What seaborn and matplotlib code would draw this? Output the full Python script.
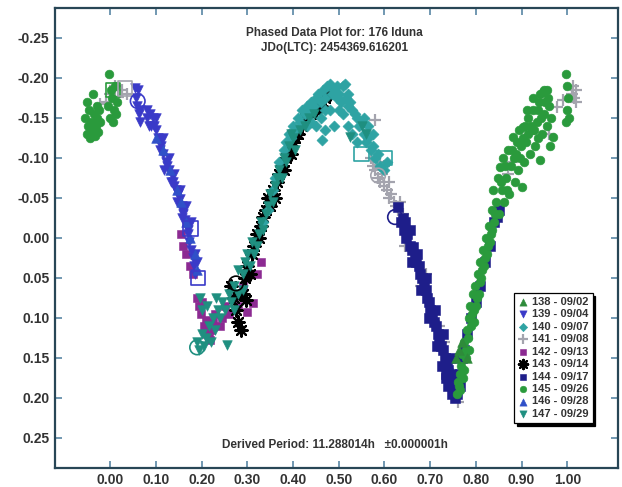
import matplotlib
matplotlib.use("Agg")
import matplotlib.pyplot as plt
import seaborn as sns
import pandas as pd

# ---------------- data ----------------
phase_138 = [0.757, 0.762, 0.770, 0.780]
mag_138 = [0.150, 0.140, 0.130, 0.150]

phase_139 = [0.054, 0.056, 0.058, 0.060, 0.062, 0.064, 0.066, 0.080, 0.087, 0.094, 0.100,
             0.105, 0.110, 0.116, 0.122, 0.128, 0.134, 0.138, 0.143, 0.148, 0.152, 0.156,
             0.160, 0.163, 0.167, 0.170, 0.173, 0.176, 0.180, 0.183, 0.186, 0.090, 0.108,
             0.125, 0.140, 0.158, 0.170,
             0.080, 0.085, 0.095, 0.100, 0.108, 0.115, 0.118, 0.128, 0.132, 0.140, 0.145,
             0.152, 0.158, 0.165, 0.170, 0.177, 0.185, 0.190]
mag_139 = [-0.187, -0.175, -0.165, -0.185, -0.155, -0.145, -0.160, -0.150, -0.155, -0.150, -0.135,
           -0.125, -0.115, -0.105, -0.095, -0.085, -0.078, -0.070, -0.060, -0.055, -0.048, -0.040,
           -0.030, -0.022, -0.014, -0.005, 0.005, 0.015, 0.025, 0.035, 0.045, -0.140, -0.120,
           -0.090, -0.065, -0.035, -0.015,
           -0.160, -0.140, -0.140, -0.150, -0.110, -0.125, -0.085, -0.100, -0.070, -0.080, -0.045,
           -0.060, -0.025, -0.040, -0.010, -0.020, 0.020, 0.030]

phase_140 = [0.360, 0.370, 0.380, 0.385, 0.390, 0.395, 0.400, 0.405, 0.410, 0.415, 0.420,
             0.425, 0.430, 0.435, 0.440, 0.445, 0.450, 0.455, 0.460, 0.465, 0.470, 0.475,
             0.480, 0.485, 0.490, 0.495, 0.500, 0.505, 0.510, 0.513, 0.515, 0.520, 0.525,
             0.530, 0.535, 0.540, 0.545, 0.550, 0.555, 0.560, 0.565, 0.570, 0.575, 0.580,
             0.585, 0.464, 0.440, 0.460, 0.430, 0.480, 0.500, 0.450, 0.470, 0.490, 0.520,
             0.530, 0.510, 0.540, 0.590, 0.600, 0.605, 0.555, 0.565, 0.575, 0.520, 0.495,
             0.470, 0.335, 0.345, 0.355]
mag_140 = [-0.075, -0.095, -0.110, -0.120, -0.130, -0.125, -0.140, -0.135, -0.150, -0.145, -0.160,
           -0.155, -0.165, -0.160, -0.170, -0.165, -0.175, -0.180, -0.170, -0.185, -0.175, -0.190,
           -0.193, -0.180, -0.185, -0.175, -0.180, -0.170, -0.190, -0.193, -0.175, -0.165, -0.170,
           -0.160, -0.155, -0.150, -0.140, -0.145, -0.130, -0.120, -0.125, -0.110, -0.115, -0.100,
           -0.105, -0.122, -0.145, -0.150, -0.140, -0.160, -0.160, -0.140, -0.135, -0.140, -0.140,
           -0.130, -0.155, -0.120, -0.090, -0.085, -0.095, -0.150, -0.140, -0.130, -0.180, -0.190,
           -0.160, -0.020, -0.035, -0.060]

phase_141 = [-0.022, -0.010, 0.000, 0.010, 0.017, 0.025, 0.037, -0.030,
             0.570, 0.575, 0.580, 0.585, 0.590, 0.595, 0.600, 0.605, 0.610, 0.615, 0.620,
             0.625, 0.630, 0.635, 0.640, 0.580, 0.600, 0.590, 0.610,
             0.645, 0.665, 0.680, 0.690, 0.720, 0.730, 0.761, 0.750,
             1.010, 1.015, 1.020, 1.012, 1.018, 0.977, 0.990, 0.960, 0.870, 0.880]
mag_141 = [-0.168, -0.170, -0.180, -0.190, -0.176, -0.185, -0.180, -0.160,
           -0.100, -0.090, -0.085, -0.075, -0.070, -0.080, -0.065, -0.060, -0.050, -0.055, -0.045,
           -0.040, -0.035, -0.045, -0.030, -0.147, -0.090, -0.095, -0.070,
           0.010, 0.030, 0.060, 0.045, 0.110, 0.130, 0.205, 0.170,
           -0.180, -0.175, -0.185, -0.190, -0.170, -0.164, -0.172, -0.130, -0.080, -0.095]

phase_142 = [0.155, 0.160, 0.165, 0.175, 0.180, 0.190, 0.195, 0.198, 0.200, 0.205, 0.210,
             0.215, 0.220, 0.225, 0.230, 0.240, 0.245, 0.250, 0.260, 0.270, 0.280, 0.290,
             0.300, 0.313, 0.320, 0.330, 0.211, 0.218]
mag_142 = [-0.005, 0.010, 0.020, 0.035, 0.045, 0.075, 0.085, 0.095, 0.080, 0.110, 0.103,
           0.125, 0.115, 0.105, 0.095, 0.110, 0.100, 0.085, 0.095, 0.075, 0.085, 0.060,
           0.093, 0.082, 0.045, 0.030, 0.120, 0.128]

phase_143 = [0.265, 0.270, 0.275, 0.280, 0.285, 0.290, 0.295, 0.298, 0.300, 0.305, 0.310,
             0.315, 0.320, 0.325, 0.330, 0.335, 0.340, 0.345, 0.350, 0.355, 0.360, 0.365,
             0.370, 0.375, 0.380, 0.385, 0.390, 0.395, 0.400, 0.405, 0.410, 0.420, 0.425,
             0.430, 0.440, 0.450, 0.455, 0.460, 0.470, 0.480]
mag_143 = [0.060, 0.075, 0.090, 0.105, 0.115, 0.070, 0.050, 0.078, 0.035, 0.045, 0.020,
           0.010, -0.005, 0.000, -0.015, -0.026, -0.035, -0.050, -0.040, -0.060, -0.050, -0.070,
           -0.080, -0.090, -0.085, -0.100, -0.110, -0.105, -0.120, -0.125, -0.130, -0.140, -0.150,
           -0.145, -0.155, -0.160, -0.170, -0.165, -0.175, -0.180]

phase_144 = [0.630, 0.636, 0.640, 0.643, 0.647, 0.650, 0.655, 0.660, 0.663, 0.667, 0.670,
             0.675, 0.678, 0.682, 0.686, 0.690, 0.693, 0.697, 0.700, 0.704, 0.708, 0.712,
             0.716, 0.720, 0.724, 0.728, 0.732, 0.736, 0.740, 0.743, 0.746, 0.750, 0.753,
             0.756, 0.758, 0.748, 0.760, 0.765, 0.770, 0.775, 0.780, 0.790, 0.800, 0.810,
             0.820, 0.830, 0.840, 0.846, 0.850, 0.725, 0.735,
             0.645, 0.655, 0.660, 0.672, 0.680, 0.690, 0.698, 0.710, 0.715, 0.728, 0.735,
             0.745, 0.755, 0.765, 0.738]
mag_144 = [-0.038, -0.020, -0.025, -0.010, 0.000, -0.005, 0.010, 0.015, 0.012, 0.025, 0.030,
           0.035, 0.045, 0.050, 0.060, 0.065, 0.075, 0.080, 0.090, 0.095, 0.105, 0.110,
           0.120, 0.125, 0.135, 0.140, 0.150, 0.155, 0.165, 0.175, 0.170, 0.185, 0.190,
           0.180, 0.195, 0.195, 0.175, 0.170, 0.150, 0.140, 0.120, 0.100, 0.080, 0.060,
           0.030, 0.010, -0.020, -0.026, -0.035, 0.160, 0.175,
           -0.020, -0.010, 0.030, 0.020, 0.065, 0.050, 0.100, 0.090, 0.135, 0.120, 0.170,
           0.150, 0.200, 0.185, 0.185]

phase_145 = [-0.055, -0.052, -0.050, -0.048, -0.046, -0.044, -0.042, -0.040, -0.038, -0.036,
             -0.034, -0.032, -0.030, -0.028, -0.026, -0.024, -0.022,
             -0.006, -0.003, 0.000, 0.002, 0.004, 0.006, 0.008, 0.010, 0.012, 0.014,
             0.758, 0.762, 0.765, 0.768, 0.772, 0.770, 0.775, 0.778, 0.780, 0.783, 0.786,
             0.790, 0.788, 0.793, 0.796, 0.799, 0.802, 0.804, 0.808, 0.810, 0.814, 0.816,
             0.820, 0.822, 0.826, 0.828, 0.832,
             0.835, 0.840, 0.838, 0.845, 0.850, 0.848, 0.853, 0.857, 0.862, 0.860, 0.866,
             0.872, 0.870, 0.876, 0.882, 0.885, 0.888, 0.892, 0.895, 0.898, 0.904, 0.900,
             0.906, 0.910, 0.915, 0.918, 0.922, 0.926, 0.930, 0.933, 0.938, 0.940, 0.944,
             0.947, 0.950, 0.955, 0.958, 0.962, 0.965, 0.969, 0.955, 0.935,
             0.997, 0.999, 1.001, 1.000, 1.003, 0.998,
             0.760, 0.766, 0.774, 0.779, 0.784, 0.791, 0.795, 0.801, 0.806, 0.812, 0.818,
             0.824, 0.830, 0.836, 0.842, 0.855, 0.864, 0.868, 0.878, 0.884, 0.890, 0.896,
             0.902, 0.908, 0.913, 0.920, 0.928, 0.935, 0.942, 0.952, 0.960, 0.912, 0.925,
             0.940, 0.950]
mag_145 = [-0.150, -0.130, -0.170, -0.140, -0.160, -0.125, -0.145, -0.135, -0.180, -0.155,
           -0.128, -0.140, -0.165, -0.150, -0.132, -0.160, -0.145,
           -0.165, -0.205, -0.150, -0.185, -0.175, -0.145, -0.160, -0.190, -0.155, -0.170,
           0.195, 0.185, 0.170, 0.160, 0.175, 0.145, 0.130, 0.150, 0.115, 0.125, 0.100,
           0.110, 0.085, 0.070, 0.090, 0.060, 0.075, 0.045, 0.055, 0.030, 0.040, 0.015,
           0.025, 0.000, 0.010, -0.015, -0.005,
           -0.035, -0.020, -0.060, -0.045, -0.030, -0.075, -0.088, -0.060, -0.045, -0.100, -0.075,
           -0.055, -0.110, -0.090, -0.126, -0.070, -0.105, -0.085, -0.135, -0.115, -0.139, -0.063,
           -0.095, -0.120, -0.150, -0.105, -0.135, -0.160, -0.115, -0.145, -0.170, -0.097, -0.130,
           -0.182, -0.155, -0.140, -0.175, -0.115, -0.150, -0.126, -0.185, -0.160,
           -0.205, -0.190, -0.175, -0.160, -0.150, -0.145,
           0.180, 0.190, 0.165, 0.140, 0.140, 0.095, 0.105, 0.085, 0.070, 0.050, 0.035,
           0.020, 0.005, -0.010, -0.030, -0.070, -0.090, -0.060, -0.110, -0.100, -0.120, -0.100,
           -0.125, -0.140, -0.130, -0.140, -0.135, -0.125, -0.150, -0.170, -0.165, -0.160, -0.175,
           -0.180, -0.185]

phase_146 = [0.100, 0.115, 0.130, 0.145, 0.155, 0.165, 0.175, 0.185, 0.190]
mag_146 = [-0.125, -0.110, -0.085, -0.060, -0.045, -0.020, 0.000, 0.020, 0.040]

phase_147 = [0.190, 0.195, 0.200, 0.205, 0.210, 0.215, 0.220, 0.225, 0.230, 0.235, 0.240,
             0.245, 0.250, 0.256, 0.260, 0.265, 0.270, 0.280, 0.290, 0.300, 0.310, 0.320,
             0.330, 0.340, 0.350, 0.360, 0.370, 0.380, 0.390, 0.400, 0.525, 0.550, 0.560,
             0.197, 0.200, 0.212, 0.232,
             0.270, 0.280, 0.290, 0.295, 0.305, 0.315, 0.325, 0.335, 0.345, 0.355, 0.365,
             0.375, 0.385, 0.395, 0.405, 0.415, 0.425, 0.435, 0.445]
mag_147 = [0.130, 0.140, 0.120, 0.135, 0.125, 0.110, 0.130, 0.100, 0.115, 0.090, 0.100,
           0.080, 0.090, 0.134, 0.070, 0.080, 0.060, 0.040, 0.045, 0.020, 0.005, 0.010,
           -0.020, -0.030, -0.055, -0.065, -0.085, -0.100, -0.115, -0.125, -0.126, -0.140, -0.130,
           0.075, 0.090, 0.085, 0.075,
           0.090, 0.070, 0.065, 0.030, 0.035, 0.020, -0.005, -0.010, -0.040, -0.045, -0.075,
           -0.075, -0.095, -0.130, -0.110, -0.135, -0.140, -0.150, -0.155]

# first point of each night (open symbols)
start_phase = [0.006, 0.032, 0.060, 0.175, 0.192, 0.190, 0.275, 0.550, 0.600, 0.586, 0.623]
start_mag = [-0.185, -0.187, -0.171, -0.012, 0.050, 0.137, 0.057, -0.105, -0.100, -0.078, -0.026]
start_session = ["145", "141", "139", "139", "139", "147", "143", "140", "140", "141", "144"]

sessions = ["138", "139", "140", "141", "142", "143", "144", "145", "146", "147"]
dates = ["09/02", "09/04", "09/07", "09/08", "09/13", "09/14", "09/17", "09/26", "09/28", "09/29"]

title_lines = ["Phased Data Plot for: 176 Iduna", "JDo(LTC): 2454369.616201"]
period_text = "Derived Period: 11.288014h   \u00b10.000001h"

series = {
    "138": (phase_138, mag_138), "139": (phase_139, mag_139), "140": (phase_140, mag_140),
    "141": (phase_141, mag_141), "142": (phase_142, mag_142), "143": (phase_143, mag_143),
    "144": (phase_144, mag_144), "145": (phase_145, mag_145), "146": (phase_146, mag_146),
    "147": (phase_147, mag_147),
}

# ---------------- styles ----------------
colors = {"138": "#2e8b3a", "139": "#3a3ac8", "140": "#2ea3a3", "141": "#a4a4ae",
          "142": "#8c2a92", "143": "#000000", "144": "#1e1e8a", "145": "#2a9a3c",
          "146": "#3050c8", "147": "#1f8f80"}
markers = {"138": "^", "139": "v", "140": "D", "141": "+", "142": "s", "143": (8, 2, 0),
           "144": "s", "145": "o", "146": "^", "147": "v"}
sizes = {"138": 48, "139": 48, "140": 32, "141": 85, "142": 40, "143": 80,
         "144": 42, "145": 40, "146": 48, "147": 48}
start_markers = ["s", "s", "o", "s", "s", "o", "o", "s", "s", "o", "o"]
draw_order = ["142", "143", "139", "146", "141", "144", "140", "147", "145", "138"]

sns.set_style("white")
plt.rcParams["font.family"] = ["Liberation Sans", "DejaVu Sans"]
plt.rcParams["font.weight"] = "bold"

fig = plt.figure(figsize=(6.22, 4.87), dpi=100)
ax = fig.add_axes([0.0884, 0.0396, 0.9052, 0.944])

for s in draw_order:
    ph, mg = series[s]
    df = pd.DataFrame({"phase": ph, "mag": mg})
    kw = dict(x="phase", y="mag", data=df, ax=ax, marker=markers[s], s=sizes[s],
              color=colors[s], label=f"{s} - {dates[sessions.index(s)]}", legend=False,
              zorder=3)
    if s in ("141", "143"):
        kw.update(linewidth=1.6)
    else:
        kw.update(edgecolor=colors[s], linewidth=0.4)
    sns.scatterplot(**kw)

for px, my, ss, mk in zip(start_phase, start_mag, start_session, start_markers):
    ax.scatter([px], [my], s=110, marker=mk, facecolors="none",
               edgecolors=colors[ss], linewidths=1.2, zorder=4)

ax.set_xlim(-0.121, 1.111)
ax.set_ylim(0.2875, -0.2875)
ax.set_xticks([i / 10 for i in range(11)])
ax.set_xticklabels([f"{i / 10:.2f}" for i in range(11)])
yt = [-0.25, -0.20, -0.15, -0.10, -0.05, 0.0, 0.05, 0.10, 0.15, 0.20, 0.25]
ax.set_yticks(yt)
ax.set_yticklabels([f"{v:.2f}" for v in yt])
ax.set_xlabel("")
ax.set_ylabel("")

ax.tick_params(axis="both", direction="in", length=5, width=1.1, color="#4a7c9c",
               labelsize=10, labelcolor="#333333", top=True, right=True,
               bottom=True, left=True, pad=4)
for lab in ax.get_xticklabels() + ax.get_yticklabels():
    lab.set_fontweight("bold")
for sp in ax.spines.values():
    sp.set_color("#284656")
    sp.set_linewidth(1.6)

ax.text(0.497, 0.946, title_lines[0], transform=ax.transAxes, ha="center", va="center",
        fontsize=8.5, fontweight="bold", color="#333333")
ax.text(0.497, 0.913, title_lines[1], transform=ax.transAxes, ha="center", va="center",
        fontsize=8.5, fontweight="bold", color="#333333")
ax.text(0.497, 0.049, period_text, transform=ax.transAxes, ha="center", va="center",
        fontsize=8.5, fontweight="bold", color="#333333")

handles, labels = ax.get_legend_handles_labels()
order = [labels.index(f"{s} - {d}") for s, d in zip(sessions, dates)]
leg = ax.legend([handles[i] for i in order], [labels[i] for i in order],
                loc="upper right", bbox_to_anchor=(0.955, 0.38), borderaxespad=0,
                frameon=True, fancybox=False, shadow={"color": "black", "alpha": 1},
                handlelength=0.9, handletextpad=0.4, labelspacing=0.22, borderpad=0.35,
                markerscale=0.75, prop={"weight": "bold", "size": 8})
leg.get_frame().set_edgecolor("black")
leg.get_frame().set_linewidth(0.9)
for t in leg.get_texts():
    t.set_color("#333333")

fig.savefig("out.png", dpi=100, facecolor="white")
